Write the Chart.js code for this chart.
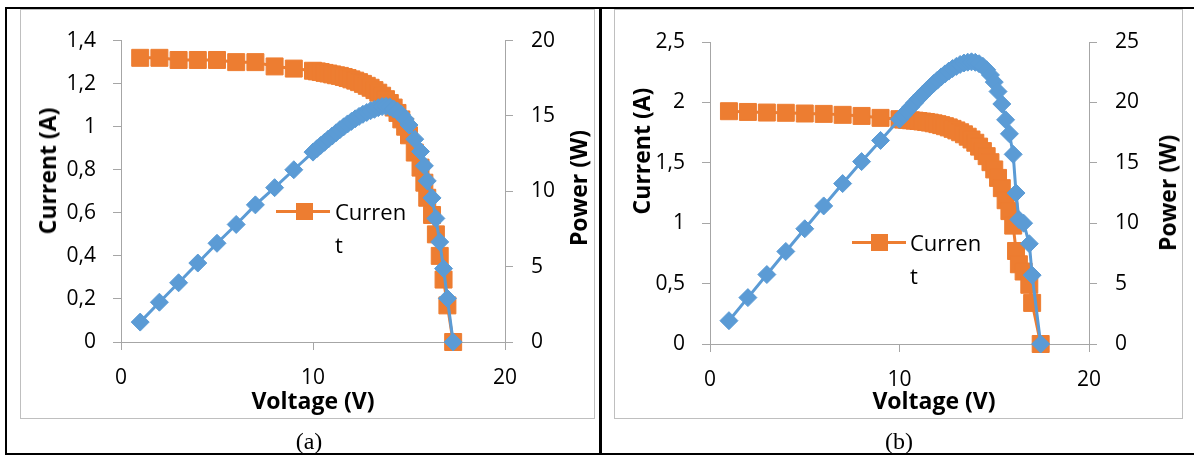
<!DOCTYPE html>
<html>
<head>
<meta charset="utf-8">
<script src="https://cdn.jsdelivr.net/npm/chart.js@4.4.1/dist/chart.umd.min.js"></script>
<style>
  body { margin: 0; width: 1194px; height: 456px; position: relative; overflow: hidden; background: #fff; font-family: 'Open Sans', sans-serif; }
  .tbl { position: absolute; left: 5px; top: 7px; width: 1220px; height: 448px; border: 2px solid #000; box-sizing: border-box; }
  .divider { position: absolute; left: 599px; top: 7px; width: 3px; height: 448px; background: #000; }
  .box { position: absolute; top: 9px; height: 410px; border: 1px solid #bfbfbf; box-sizing: border-box; background: #fff; }
  .box canvas { position: absolute; left: 0; top: 0; }
  .ttl { position: absolute; font-weight: bold; font-size: 23px; color: #000; white-space: nowrap; transform: translate(-50%, -50%); }
  .rot { transform: translate(-50%, -50%) rotate(-90deg); }
  .cap { position: absolute; font-family: 'Liberation Serif', serif; font-size: 24px; color: #000; transform: translate(-50%, -50%); }
  .leg { position: absolute; font-size: 22px; color: #000; line-height: 33px; }
  .leg .ln { position: absolute; height: 3px; background: #ED7D31; }
  .leg .mk { position: absolute; width: 17px; height: 17px; background: #ED7D31; }
  .leg .tx { position: absolute; white-space: nowrap; }
</style>
</head>
<body>
<div class="tbl"></div>
<div class="divider"></div>

<div class="box" style="left:20px; width:575px;"><canvas id="chartA" width="573" height="408"></canvas></div>
<div class="box" style="left:614px; width:569px;"><canvas id="chartB" width="567" height="408"></canvas></div>

<!-- axis titles -->
<div class="ttl rot" style="left:47px; top:171px;">Current (A)</div>
<div class="ttl rot" style="left:578px; top:188px;">Power (W)</div>
<div class="ttl" style="left:313px; top:400px;">Voltage (V)</div>
<div class="ttl rot" style="left:641px; top:151px;">Current (A)</div>
<div class="ttl rot" style="left:1167px; top:193px;">Power (W)</div>
<div class="ttl" style="left:934px; top:400px;">Voltage (V)</div>

<!-- legends -->
<div class="leg" style="left:0; top:0;">
  <div class="ln" style="left:276px; top:210px; width:54px;"></div>
  <div class="mk" style="left:296px; top:203px;"></div>
  <div class="tx" style="left:335px; top:195px;">Curren<br>t</div>
</div>
<div class="leg" style="left:0; top:0;">
  <div class="ln" style="left:852px; top:241px; width:54px;"></div>
  <div class="mk" style="left:871px; top:234px;"></div>
  <div class="tx" style="left:910px; top:226px;">Curren<br>t</div>
</div>

<div class="cap" style="left:309px; top:441px;">(a)</div>
<div class="cap" style="left:899px; top:441px;">(b)</div>

<script>
// (a) module
const voltageA = [1, 2, 3, 4, 5, 6, 7, 8, 9, 10,
  10.2, 10.4, 10.6, 10.8, 11, 11.2, 11.4, 11.6, 11.8, 12,
  12.2, 12.4, 12.6, 12.8, 13, 13.2, 13.4, 13.6, 13.8, 14,
  14.2, 14.4, 14.6, 14.8, 15,
  15.3, 15.6, 15.8, 15.95, 16.2, 16.4, 16.6, 16.8, 17, 17.3];
const currentA = [1.32, 1.32, 1.31, 1.31, 1.31, 1.30, 1.30, 1.28, 1.27, 1.26,
  1.257, 1.254, 1.250, 1.247, 1.243, 1.239, 1.236, 1.231, 1.226, 1.220,
  1.214, 1.207, 1.199, 1.190, 1.181, 1.170, 1.158, 1.144, 1.128, 1.110,
  1.089, 1.064, 1.034, 1.000, 0.960,
  0.88, 0.81, 0.74, 0.67, 0.59, 0.50, 0.40, 0.29, 0.17, 0];
const powerA = [1.32, 2.64, 3.93, 5.24, 6.55, 7.80, 9.10, 10.24, 11.43, 12.60,
  12.82, 13.04, 13.25, 13.47, 13.67, 13.88, 14.09, 14.28, 14.47, 14.64,
  14.81, 14.97, 15.11, 15.23, 15.35, 15.44, 15.55, 15.62, 15.64, 15.60,
  15.46, 15.32, 15.10, 14.80, 14.40,
  13.46, 12.64, 11.69, 10.69, 9.56, 8.20, 6.64, 4.87, 2.89, 0];

// (b) module
const voltageB = [1, 2, 3, 4, 5, 6, 7, 8, 9, 10,
  10.2, 10.4, 10.6, 10.8, 11, 11.2, 11.4, 11.6, 11.8, 12,
  12.2, 12.4, 12.6, 12.8, 13, 13.2, 13.4, 13.6, 13.8, 14,
  14.2, 14.4, 14.6, 14.8, 15, 15.2, 15.4, 15.6, 15.8,
  16, 16.15, 16.3, 16.55, 16.85, 17, 17.45];
const currentB = [1.927, 1.921, 1.916, 1.914, 1.908, 1.905, 1.897, 1.888, 1.872, 1.861,
  1.858, 1.855, 1.852, 1.849, 1.846, 1.842, 1.838, 1.833, 1.827, 1.820,
  1.812, 1.803, 1.793, 1.781, 1.768, 1.753, 1.736, 1.716, 1.693, 1.666,
  1.634, 1.597, 1.555, 1.505, 1.445, 1.375, 1.290, 1.190, 1.100,
  0.98, 0.77, 0.66, 0.60, 0.49, 0.34, 0];
const powerB = [1.93, 3.84, 5.75, 7.66, 9.54, 11.43, 13.28, 15.10, 16.85, 18.61,
  18.95, 19.29, 19.63, 19.97, 20.31, 20.63, 20.95, 21.26, 21.56, 21.84,
  22.11, 22.36, 22.59, 22.80, 22.98, 23.14, 23.26, 23.33, 23.36, 23.32,
  23.20, 22.99, 22.70, 22.27, 21.68, 20.90, 19.87, 18.56, 17.40,
  15.7, 12.5, 10.3, 10.0, 8.3, 5.7, 0];

const voltageTicks = [0, 10, 20];
const ORANGE = '#ED7D31';
const BLUE = '#5B9BD5';
const AXIS = '#a6a6a6';

Chart.defaults.font.family = "'Open Sans', sans-serif";
Chart.defaults.font.size = 21;
Chart.defaults.color = '#000';

function comma(v) {
  return (Math.round(v * 10) / 10).toString().replace('.', ',');
}

function renderChart(canvasId, volts, amps, watts, ampMax, ampStep, wattMax, box) {
  const ctx = document.getElementById(canvasId).getContext('2d');
  const axisStyle = {
    grid: { drawOnChartArea: false, drawTicks: true, tickLength: 8, color: AXIS, lineWidth: 1 },
    border: { display: true, color: AXIS, width: 1 }
  };
  return new Chart(ctx, {
    type: 'scatter',
    data: {
      datasets: [{
        label: 'Current',
        data: volts.map((v, i) => ({ x: v, y: amps[i] })),
        yAxisID: 'y',
        showLine: true,
        borderColor: ORANGE,
        backgroundColor: ORANGE,
        borderWidth: 3,
        pointStyle: 'rect',
        pointRadius: 12,
        pointBorderWidth: 1,
        pointBackgroundColor: ORANGE,
        pointBorderColor: ORANGE,
        tension: 0,
        clip: false,
        order: 2
      }, {
        label: 'Power',
        data: volts.map((v, i) => ({ x: v, y: watts[i] })),
        yAxisID: 'y1',
        showLine: true,
        borderColor: BLUE,
        backgroundColor: BLUE,
        borderWidth: 3,
        pointStyle: 'rectRot',
        pointRadius: 9,
        pointBorderWidth: 1,
        pointBackgroundColor: BLUE,
        pointBorderColor: BLUE,
        tension: 0,
        clip: false,
        order: 1
      }]
    },
    options: {
      responsive: false,
      animation: false,
      devicePixelRatio: 1,
      layout: { padding: { top: box.top, left: 0, right: 0, bottom: 0 } },
      plugins: { legend: { display: false }, tooltip: { enabled: false } },
      scales: {
        x: {
          type: 'linear', min: 0, max: 20,
          afterBuildTicks: s => { s.ticks = voltageTicks.map(v => ({ value: v })); },
          ticks: { padding: 15 },
          ...axisStyle,
          afterFit: s => { s.height = box.bottom; }
        },
        y: {
          position: 'left', min: 0, max: ampMax,
          ticks: { stepSize: ampStep, padding: 17, callback: comma },
          ...axisStyle,
          afterFit: s => { s.width = box.left; }
        },
        y1: {
          position: 'right', min: 0, max: wattMax,
          ticks: { stepSize: 5, padding: 18 },
          ...axisStyle,
          afterFit: s => { s.width = box.right; }
        }
      }
    }
  });
}

renderChart('chartA', voltageA, currentA, powerA, 1.4, 0.2, 20, { top: 23, left: 100, right: 89, bottom: 76 });
renderChart('chartB', voltageB, currentB, powerB, 2.5, 0.5, 25, { top: 32, left: 95, right: 93, bottom: 74 });
</script>
</body>
</html>
